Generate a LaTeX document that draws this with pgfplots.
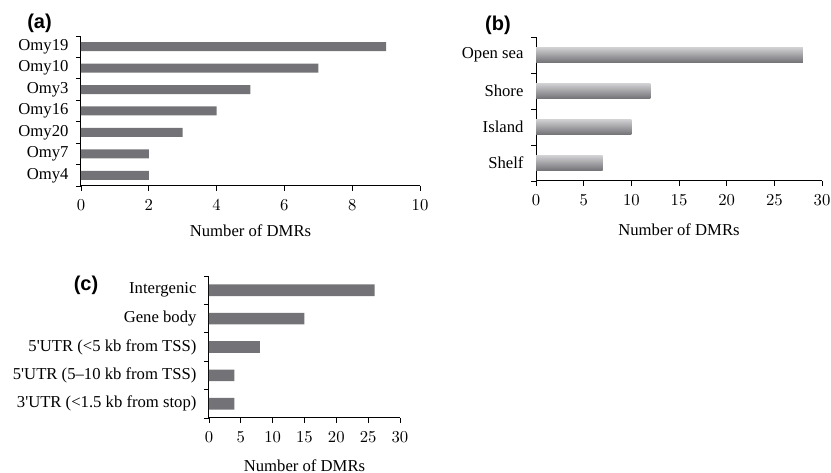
\documentclass[border=0pt]{standalone}
\usepackage{pgfplots}
\pgfplotsset{compat=1.18}
\usepackage{fontspec}
\setmainfont{Liberation Serif}
\newfontfamily\panelfont{Liberation Sans}
\definecolor{barc}{RGB}{115,115,119}
\definecolor{shtop}{RGB}{205,205,208}
\definecolor{shmid}{RGB}{150,150,154}
\definecolor{shbot}{RGB}{118,118,122}
\pgfplotsset{
  myaxis/.style={
    scale only axis,
    axis x line*=bottom, axis y line*=left,
    axis line style={black, line width=0.6pt},
    tick style={black, line width=0.5pt},
    tick align=outside,
    major tick length=3pt,
    xmin=0,
    yticklabel=\empty,
    extra y tick style={major tick length=0pt, yticklabel style={xshift=-4pt}},
    xticklabel style={yshift=-2pt},
    xlabel style={at={(axis description cs:0.5,0)}, anchor=center},
    font=\fontsize{10}{12}\selectfont,
  },
  shbar/.style={xbar, bar width=0.39, bar shift=0pt, draw=none, top color=shtop, middle color=shmid, bottom color=shbot},
}
\begin{document}
\begin{tikzpicture}[x=0.6pt,y=0.6pt]
\useasboundingbox (0,0) rectangle (831,473);

% (a)
\begin{axis}[myaxis, at={(48.6pt,172.2pt)}, anchor=south west,
  width=203.4pt, height=90pt,
  xmax=10, xtick={0,2,...,10},
  ymin=-0.5, ymax=6.5,
  ytick={-0.5,0.5,...,6.5},
  extra y ticks={0,...,6},
  extra y tick labels={Omy4,Omy7,Omy20,Omy16,Omy3,Omy10,Omy19},
  xlabel={Number of DMRs},
  xlabel style={yshift=-27pt},
]
\addplot[xbar, bar width=0.42, draw=none, fill=barc] coordinates {
  (2,0) (2,1) (3,2) (4,3) (5,4) (7,5) (9,6)};
\end{axis}

% (b)
\begin{axis}[myaxis, at={(321.6pt,175.2pt)}, anchor=south west,
  width=171.6pt, height=86.4pt,
  xmax=30, xtick={0,5,...,30},
  ymin=-0.5, ymax=3.5,
  ytick={-0.5,0.5,...,3.5},
  extra y ticks={0,...,3},
  extra y tick labels={Shelf,Island,Shore,Open sea},
  xlabel={Number of DMRs},
  xlabel style={yshift=-29.4pt},
]
\addplot[shbar] coordinates {(7,0)};
\addplot[shbar] coordinates {(10,1)};
\addplot[shbar] coordinates {(12,2)};
\addplot[shbar] coordinates {(28,3)};
\end{axis}

% (c)
\begin{axis}[myaxis, at={(125.4pt,33pt)}, anchor=south west,
  width=114.6pt, height=85.2pt,
  xmax=30, xtick={0,5,...,30},
  ymin=-0.5, ymax=4.5,
  ytick={-0.5,0.5,...,4.5},
  extra y ticks={0,...,4},
  extra y tick labels={3\textquotesingle UTR (<1.5 kb from stop),5\textquotesingle UTR (5--10 kb from TSS),5\textquotesingle UTR (<5 kb from TSS),Gene body,Intergenic},
  xlabel={Number of DMRs},
  xlabel style={yshift=-28.8pt},
]
\addplot[xbar, bar width=0.41, draw=none, fill=barc] coordinates {
  (4,0) (4,1) (8,2) (15,3) (26,4)};
\end{axis}

\node[font=\panelfont\bfseries\fontsize{12}{14}\selectfont] at (39.5,450) {(a)};
\node[font=\panelfont\bfseries\fontsize{12}{14}\selectfont] at (498,448) {(b)};
\node[font=\panelfont\bfseries\fontsize{12}{14}\selectfont] at (86,188) {(c)};
\end{tikzpicture}
\end{document}
